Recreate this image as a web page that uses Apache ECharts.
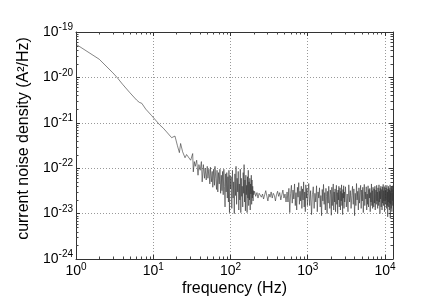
<!DOCTYPE html>
<html><head><meta charset="utf-8">
<script src="https://cdn.jsdelivr.net/npm/echarts@6/dist/echarts.min.js"></script>
<style>html,body{margin:0;padding:0;background:#fff}#c{width:436px;height:304px}</style>
</head><body><div id="c"></div>
<script>
// ---- texts ----
const xTitle = 'frequency (Hz)';
const yTitle = 'current noise density (A²/Hz)';
// ---- axis ranges ----
const xMin = 1, xMax = 12700;          // Hz
const unitExp = -23;                   // psd values below are in units of 1e-23 A²/Hz
const yMin = 0.1, yMax = 10000;        // = 1e-24 .. 1e-19 A²/Hz
const minorMantissas = [2,3,4,5,6,7,8,9];

// ---- data: frequency (Hz) ----
const freqHz = [
  1,2,3,3.4,4,5,6.1,6.6,7.1,8,9.5,10,12.2,13.5,14.9,17.3,18.2,19.1,20.5,21.8,22.6,24,25.8,27,28.5,30.5,32.4,
  33,34,35,36.5,38,39,40.5,42,43,44.5,46,47,48.5,50,51,52.5,54,55,56.5,58,59,60.5,62,63,64.5,66,67,68.5,70,71.5,
  73,74.5,76,77.5,79,80.5,82,83.5,85,86.5,88,89.5,91,92.5,94,95.5,97,98.5,
  100,102,104,106,108,110,112,114,116,118,120,122,124,126,128,130,132,134,136,138,140,142,144,146,148,150,
  152,154,156,158,160,162,164,166,168,170,172,174,176,178,180,182,184,186,188,190,192,194,196,198,200,
  205,212,220,227,235,243,251,260,268,277,286,296,305,315,325,336,347,358,370,382,394,407,420,434,448,462,477,492,508,524,540,
  555,570,585,600,615,630,645,660,675,690,705,720,735,750,765,780,795,810,825,840,855,870,885,900,915,930,945,960,975,990,
  1030,1060,1090,1120,1150,1180,1210,1240,1270,1300,1330,1360,1390,1420,1450,1480,1510,1540,1570,1600,
  1630,1660,1690,1720,1750,1780,1810,1840,1870,1900,1930,1960,1990,2020,2050,2080,2110,2140,2170,2200,
  2230,2260,2290,2320,2350,2380,2410,2440,2470,2500,2530,2560,2590,2620,2650,2680,2710,2740,2770,2800,
  2830,2860,2890,2920,2950,2980,3010,
  3080,3160,3240,3320,3400,3480,3560,3640,3720,3800,3880,3960,4040,4120,4200,4280,4360,4440,4520,4600,
  4680,4760,4840,4920,5000,5080,5160,5240,5320,5400,5480,5560,5640,5720,5800,5880,5960,6040,6120,6200,
  6280,6360,6440,6520,6600,6680,6760,6840,6920,7000,7080,7160,7240,7320,7400,7480,7560,7640,7720,7800,
  7880,7960,8040,8120,8200,8280,8360,8440,8520,8600,8680,8760,8840,8920,9000,9080,9160,9240,9320,9400,
  9480,9560,9640,9720,9800,9880,9960,10040,10120,10200,10280,10360,10440,10520,10600,10680,10760,10840,10920,11000,
  11080,11160,11240,11320,11400,11480,11560,11640,11720,11800,11880,11960,12040,12120,12200,12280,12360,12440,12520,12600,
  12680
];
// ---- data: current noise density (units of 1e-23 A²/Hz) ----
const psd = [
  5370,2510,1260,1000,708,457,316,282,269,200,145,135,89,76,63,47,50,51,32,22,35,23,17,20,19.5,15,21,
  8.3,14,11,15,7,12,9,14,5,12,6,10,5.5,11,6,9.5,4.5,10.5,5,8.5,3.8,9.5,4.2,11,6,3.4,9,3,8,4.5,
  9.5,2.8,7,3.2,8.5,2.6,9.5,4,1.4,7.5,3,8,2.2,6.5,1.8,9,1.05,7,
  3.5,6.5,1.3,9,2.2,5,1.0,7.5,2.5,11,1.6,6,3,8.5,1.2,4.5,2,9.5,1.05,6,2.4,4,1.4,8,2.8,12,
  1.8,5.5,1.15,7,2.6,4.2,1.05,6.5,2.2,9,1.5,5,2,6,1.2,4.5,2.7,7,1.6,5.5,2.2,4,1.9,3.2,2.6,
  3.1,2.4,2.9,2.2,2.8,3.0,2.3,2.7,2.1,2.6,3.2,2.4,1.9,2.7,2.3,3.0,2.2,2.8,2.5,1.9,2.6,3.1,2.4,2.9,2.0,2.6,3.3,2.2,2.7,1.8,3.0,
  1.8,3.6,1.05,2.8,4.2,1.7,3.3,2.1,4.5,1.5,2.9,1.2,3.8,2.3,4.8,1.6,3.1,1.9,4.0,1.3,3.5,2.0,5.0,1.4,3.0,1.1,4.3,2.2,3.6,1.5,
  4.6,1.5,3.2,0.95,2.6,3.9,1.3,2.8,1.8,4.1,1.1,3.0,2.2,3.7,1.4,2.5,0.9,3.4,1.9,4.4,
  1.6,2.9,1.2,3.6,2.4,1.0,3.1,1.7,4.0,2.1,1.3,3.3,2.6,0.92,3.8,1.5,2.7,4.5,1.2,3.0,
  1.8,3.5,1.1,2.4,4.2,1.6,2.9,1.0,3.3,2.0,4.0,1.4,2.6,3.7,1.2,3.1,1.9,4.3,1.5,2.8,
  0.95,3.4,2.2,4.1,1.3,3.0,1.8,
  3.9,1.4,2.7,1.1,4.3,1.8,3.2,1.3,2.5,4.0,1.6,3.5,0.9,2.8,1.5,4.6,2.0,3.1,1.2,3.7,
  1.7,2.9,4.2,1.3,3.3,1.9,3.8,1.05,2.6,4.4,1.5,3.0,2.1,3.9,1.2,2.7,1.6,4.1,1.4,3.4,
  2.2,3.6,1.1,2.9,1.8,4.5,1.5,3.2,1.3,3.8,2.0,1.4,3.5,1.7,4.0,1.2,2.8,3.3,1.6,4.2,
  1.9,3.0,1.3,3.7,2.3,1.5,4.3,1.8,3.1,1.0,3.6,2.1,4.0,1.4,2.7,3.4,1.2,3.9,1.7,2.9,
  4.4,1.5,3.2,1.9,3.8,1.1,2.6,4.1,1.6,3.3,2.0,3.7,1.3,2.8,4.2,1.5,3.0,0.85,3.5,1.8,
  4.0,1.4,2.9,3.6,1.2,3.3,1.7,4.3,0.8,3.1,1.6,3.8,1.3,2.7,3.9,1.1,3.4,1.9,4.1,1.5,
  3.0
];

const FONT = 'Liberation Sans, Arial, sans-serif';
const seriesData = freqHz.map((f, i) => [f, psd[i]]);

function isDecade(v) { const l = Math.log10(v); return Math.abs(l - Math.round(l)) < 1e-6; }
function supLabel(exp) { return '{b|10}{s|' + exp + '}'; }
const richLab = {
  b: { fontSize: 14, fontFamily: FONT, color: '#000' },
  s: { fontSize: 10, fontFamily: FONT, color: '#000', padding: [0, 0, 9, 0] }
};

function renderMinor(params, api) {
  const cs = params.coordSys;
  const L = 2.5, children = [];
  const st = { stroke: '#444', lineWidth: 1 };
  const x0 = cs.x, x1 = cs.x + cs.width, y0 = cs.y, y1 = cs.y + cs.height;
  for (let d = 0; d <= 4; d++) for (const m of minorMantissas) {
    const v = m * Math.pow(10, d);
    if (v >= xMax) continue;
    const px = Math.round(api.coord([v, yMin])[0]) + 0.5;
    children.push({ type: 'line', shape: { x1: px, y1: y1, x2: px, y2: y1 - L }, style: st });
    children.push({ type: 'line', shape: { x1: px, y1: y0, x2: px, y2: y0 + L }, style: st });
  }
  for (let d = -1; d <= 3; d++) for (const m of minorMantissas) {
    const v = m * Math.pow(10, d);
    if (v >= yMax) continue;
    const py = Math.round(api.coord([xMin, v])[1]) + 0.5;
    children.push({ type: 'line', shape: { x1: x0, y1: py, x2: x0 + L, y2: py }, style: st });
    children.push({ type: 'line', shape: { x1: x1, y1: py, x2: x1 - L, y2: py }, style: st });
  }
  return { type: 'group', children };
}

const gridLine = { show: true, lineStyle: { color: '#999', width: 1, type: [1, 2] } };
const chart = echarts.init(document.getElementById('c'), null, { renderer: 'canvas' });
chart.setOption({
  animation: false,
  backgroundColor: '#fff',
  grid: { left: 76, right: 43, top: 32, bottom: 45, containLabel: false },
  xAxis: [{
    type: 'log', logBase: 10, min: xMin, max: xMax, position: 'bottom',
    axisLine: { show: true, lineStyle: { color: '#333', width: 1 } },
    axisTick: { show: true, inside: true, length: 4, lineStyle: { color: '#333' } },
    splitLine: gridLine,
    axisLabel: {
      margin: 3, showMaxLabel: false,
      formatter: v => isDecade(v) ? supLabel(Math.round(Math.log10(v))) : '',
      rich: richLab
    }
  }, {
    type: 'log', logBase: 10, min: xMin, max: xMax, position: 'top',
    axisLine: { show: true, lineStyle: { color: '#333', width: 1 } },
    axisTick: { show: true, inside: true, length: 4, lineStyle: { color: '#333' } },
    splitLine: { show: false }, axisLabel: { show: false }
  }],
  yAxis: [{
    type: 'log', logBase: 10, min: yMin, max: yMax, position: 'left',
    axisLine: { show: true, lineStyle: { color: '#333', width: 1 } },
    axisTick: { show: true, inside: true, length: 4, lineStyle: { color: '#333' } },
    splitLine: gridLine,
    axisLabel: {
      margin: 3,
      formatter: v => isDecade(v) ? supLabel(Math.round(Math.log10(v)) + unitExp) : '',
      rich: richLab
    }
  }, {
    type: 'log', logBase: 10, min: yMin, max: yMax, position: 'right',
    axisLine: { show: true, lineStyle: { color: '#333', width: 1 } },
    axisTick: { show: true, inside: true, length: 4, lineStyle: { color: '#333' } },
    splitLine: { show: false }, axisLabel: { show: false }
  }],
  series: [{
    type: 'line', xAxisIndex: 0, yAxisIndex: 0,
    data: seriesData, showSymbol: false, symbol: 'none', sampling: null,
    lineStyle: { color: '#333', width: 0.6 }, z: 3, silent: true
  }, {
    type: 'custom', xAxisIndex: 0, yAxisIndex: 0, data: [[xMin, yMin]],
    renderItem: renderMinor, silent: true, z: 4, clip: false
  }],
  graphic: [
    { type: 'text', x: 234.5, y: 289, silent: true,
      style: { text: xTitle, font: '16px ' + FONT, fill: '#000', textAlign: 'center', textVerticalAlign: 'middle' } },
    { type: 'text', x: 24, y: 138.5, rotation: Math.PI / 2, silent: true,
      style: { text: yTitle, font: '16px ' + FONT, fill: '#000', textAlign: 'center', textVerticalAlign: 'middle' } }
  ]
});
</script></body></html>
